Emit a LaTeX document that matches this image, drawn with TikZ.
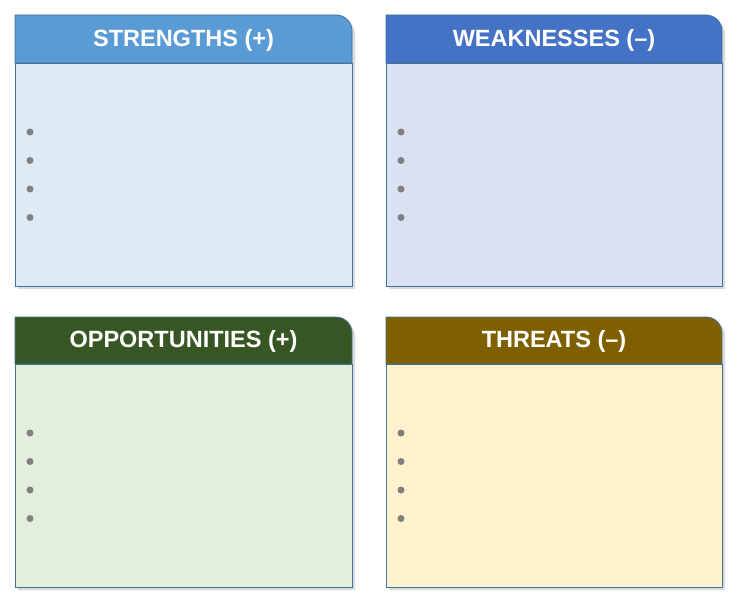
\documentclass[tikz,border=0pt]{standalone}
\usepackage{fontspec}
\setmainfont{Liberation Sans}
\definecolor{bordc}{HTML}{41719C}
\definecolor{sH}{HTML}{5B9BD5}\definecolor{sB}{HTML}{DDEBF7}
\definecolor{wH}{HTML}{4472C4}\definecolor{wB}{HTML}{D9E1F2}
\definecolor{oH}{HTML}{375623}\definecolor{oB}{HTML}{E2EFDA}
\definecolor{tH}{HTML}{7F6000}\definecolor{tB}{HTML}{FFF2CC}
\tikzset{
  edge/.style={draw=bordc, line width=0.8pt},
  shad/.style={fill=black!14},
  ttl/.style={text=white, font=\bfseries\fontsize{23.5}{26}\selectfont, anchor=center},
  dot/.style={circle, fill=black!50, inner sep=0pt, minimum size=7pt}
}
\begin{document}
\begin{tikzpicture}[x=1pt,y=-1pt]
\useasboundingbox (0,0) rectangle (741,607);
\fill[white] (0,0) rectangle (741,607);
% strengths
\fill[shad] (18,18) -- (339,18) arc[start angle=-90, end angle=0, radius=16] -- (355,289) -- (18,289) -- cycle;
\fill[sB, edge] (15,63) rectangle (352,286);
\path[fill=sH, edge] (15,63) -- (15,15) -- (336,15) arc[start angle=-90, end angle=0, radius=16] -- (352,63) -- cycle;
\node[ttl] (s) at (183.5,40) {STRENGTHS (+)};
\foreach \k in {0,1,2,3} \node[dot] (s\k) at (30,132+28.5*\k) {};
% weaknesses
\fill[shad] (389,18) -- (709,18) arc[start angle=-90, end angle=0, radius=16] -- (725,289) -- (389,289) -- cycle;
\fill[wB, edge] (386,63) rectangle (722,286);
\path[fill=wH, edge] (386,63) -- (386,15) -- (706,15) arc[start angle=-90, end angle=0, radius=16] -- (722,63) -- cycle;
\node[ttl] (w) at (554,40) {WEAKNESSES (–)};
\foreach \k in {0,1,2,3} \node[dot] (w\k) at (401,132+28.5*\k) {};
% opportunities
\fill[shad] (18,320) -- (339,320) arc[start angle=-90, end angle=0, radius=16] -- (355,590) -- (18,590) -- cycle;
\fill[oB, edge] (15,364) rectangle (352,587);
\path[fill=oH, edge] (15,364) -- (15,317) -- (336,317) arc[start angle=-90, end angle=0, radius=16] -- (352,364) -- cycle;
\node[ttl] (o) at (183.5,341) {OPPORTUNITIES (+)};
\foreach \k in {0,1,2,3} \node[dot] (o\k) at (30,433+28.5*\k) {};
% threats
\fill[shad] (389,320) -- (709,320) arc[start angle=-90, end angle=0, radius=16] -- (725,590) -- (389,590) -- cycle;
\fill[tB, edge] (386,364) rectangle (722,587);
\path[fill=tH, edge] (386,364) -- (386,317) -- (706,317) arc[start angle=-90, end angle=0, radius=16] -- (722,364) -- cycle;
\node[ttl] (t) at (554,341) {THREATS (–)};
\foreach \k in {0,1,2,3} \node[dot] (t\k) at (401,433+28.5*\k) {};
\end{tikzpicture}
\end{document}
